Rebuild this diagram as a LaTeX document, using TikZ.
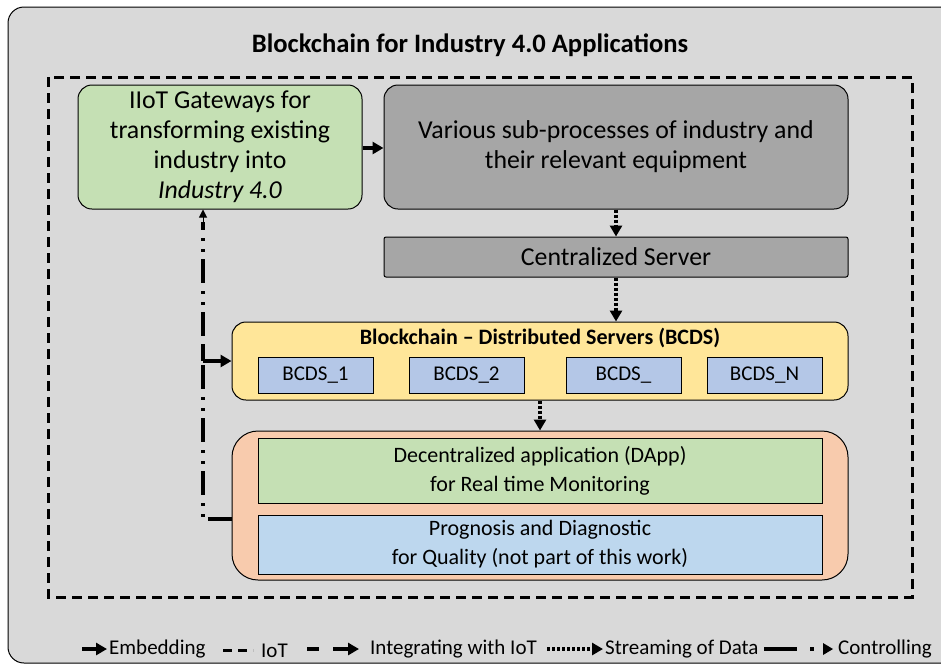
\documentclass[tikz,border=0pt]{standalone}
\usepackage{fontspec}
\setmainfont{Carlito}
\usetikzlibrary{arrows.meta}

\definecolor{panel}{HTML}{D9D9D9}
\definecolor{gategreen}{HTML}{C5E0B4}
\definecolor{procgray}{HTML}{A6A6A6}
\definecolor{chainyellow}{HTML}{FFE699}
\definecolor{serverblue}{HTML}{B4C7E7}
\definecolor{apporange}{HTML}{F8CBAD}
\definecolor{qualblue}{HTML}{BDD7EE}

\tikzset{
  box/.style={draw,line width=1pt,align=center,inner sep=0pt},
  bigtext/.style={font=\fontsize{25.8}{30}\selectfont},
  midtext/.style={font=\fontsize{22}{29}\selectfont},
  tip/.style={-{Triangle[length=11pt,width=12pt]}},
  embed/.style={tip,line width=3.5pt},
  stream/.style={tip,line width=3.5pt,dash pattern=on 3pt off 2pt},
  ctrl/.style={line width=3.5pt,dash pattern=on 24pt off 7pt on 3pt off 8pt on 3pt off 8pt},
  legendtext/.style={font=\fontsize{21}{24}\selectfont,anchor=west,inner sep=0pt},
}

\begin{document}
\begin{tikzpicture}[x=1pt,y=-1pt]

	\useasboundingbox (0,0) rectangle (941,665);
	\clip (0,0) rectangle (941,665);

	% outer panel
	\draw[fill=panel,line width=1pt,rounded corners=16pt] (8,7) rectangle (980,663);
	\node[font=\bfseries\fontsize{26.6}{30}\selectfont] (title) at (470,45) {Blockchain for Industry 4.0 Applications};

	% dashed frame
	\draw[line width=3pt,dash pattern=on 10pt off 6pt] (48,77) rectangle (912,597);

	% top row
	\node[box,bigtext,fill=gategreen,rounded corners=14pt,minimum width=284pt,minimum height=124pt] (gate) at (220,147)
		{IIoT Gateways for\\transforming existing\\industry into\\\textit{Industry 4.0}};
	\node[box,bigtext,fill=procgray,rounded corners=14pt,minimum width=464pt,minimum height=124pt] (proc) at (616,147)
		{Various sub-processes of industry and\\their relevant equipment};
	\node[box,bigtext,fill=procgray,rounded corners=2pt,minimum width=464pt,minimum height=40pt] (central) at (616,257)
		{Centralized Server};

	% blockchain servers
	\node[box,fill=chainyellow,rounded corners=14pt,minimum width=616pt,minimum height=78pt] (chain) at (540,361) {};
	\node[font=\bfseries\fontsize{22}{24}\selectfont] (chaintitle) at (540,338) {Blockchain -- Distributed Servers (BCDS)};
	\foreach \name/\lbl/\cx in {bcdsa/BCDS\_1/315.5, bcdsb/BCDS\_2/466.5, bcdsc/BCDS\_/623.5, bcdsn/BCDS\_N/764.5}
		\node[box,fill=serverblue,font=\fontsize{21}{24}\selectfont,minimum width=115pt,minimum height=36pt] (\name) at (\cx,375) {\lbl};

	% applications
	\node[box,fill=apporange,rounded corners=26pt,minimum width=616pt,minimum height=149pt] (app) at (540,505.5) {};
	\node[box,midtext,fill=gategreen,minimum width=564pt,minimum height=65pt] (dapp) at (540,470.5)
		{Decentralized application (DApp)\\for Real time Monitoring};
	\node[box,midtext,fill=qualblue,minimum width=564pt,minimum height=59pt] (qual) at (540,544.5)
		{Prognosis and Diagnostic\\for Quality (not part of this work)};

	% connectors
	\draw[embed] (gate.east |- 0,148) -- (proc.west |- 0,148);
	\draw[stream] (proc.south) -- (central.north);
	\draw[stream] (central.south) -- (chain.north -| central.south);
	\draw[stream] (chain.south) -- (app.north);

	% control loop
	\coordinate (ctl) at (203,519);
	\coordinate (branch) at (203,361);
	\draw[ctrl] (app.west |- ctl) -- (ctl) -- (ctl |- 0,222);
	\draw[-{Triangle[length=8pt,width=8pt]},line width=1pt] (ctl |- 0,222) -- (ctl |- gate.south);
	\draw[line width=3.5pt] (203,347) -- (branch);
	\draw[embed] (branch) -- (chain.west |- branch);

	% legend
	\draw[embed] (82,649) -- (107,649);
	\node[legendtext] (lembed) at (109,649) {Embedding};
	\draw[line width=3pt,dash pattern=on 9pt off 6pt] (223,650) -- (253,650);
	\node[legendtext] (liot) at (261,651) {IoT};
	\draw[line width=3.5pt] (307,649) -- (319,649);
	\draw[embed] (333,649) -- (359,649);
	\node[legendtext] (linteg) at (370,649) {Integrating with IoT};
	\draw[stream] (547,649) -- (603,649);
	\node[legendtext] (lstream) at (605,649) {Streaming of Data};
	\draw[line width=3.5pt] (764,649) -- (797,649);
	\fill (810,647) rectangle (814,651);
	\fill (823,643) -- (833,649) -- (823,655) -- cycle;
	\node[legendtext] (lctrl) at (838,649) {Controlling};

\end{tikzpicture}
\end{document}
